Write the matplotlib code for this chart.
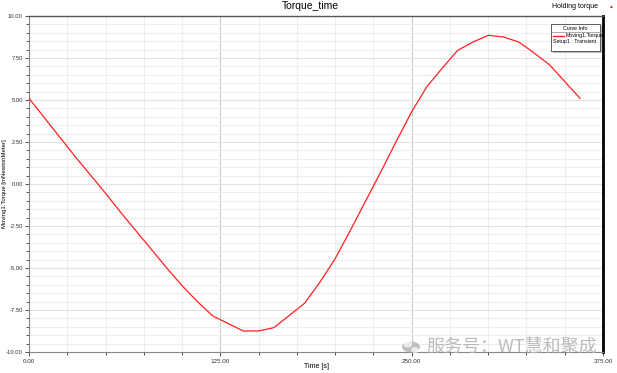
import matplotlib
matplotlib.use('Agg')
import matplotlib.pyplot as plt
import numpy as np
from matplotlib.patches import Circle, Ellipse, Rectangle

plt.rcParams['font.family'] = ['Liberation Sans Narrow', 'Liberation Sans', 'DejaVu Sans']

# torque curve (time in s, torque in mNewtonMeter)
time_s = [0, 10, 20, 30, 40, 50, 60, 70, 80, 90, 100, 110, 120, 140, 150, 160,
          180, 190, 200, 210, 220, 230, 240, 250, 260, 270, 280, 290, 300, 310,
          320, 330, 340, 350, 360]
torque = [5.10, 3.95, 2.80, 1.65, 0.55, -0.55, -1.70, -2.80, -3.90, -5.00, -6.05,
          -7.00, -7.85, -8.75, -8.75, -8.55, -7.10, -5.85, -4.45, -2.75, -1.00,
          0.75, 2.55, 4.30, 5.80, 6.90, 7.95, 8.45, 8.85, 8.75, 8.45, 7.80, 7.10,
          6.10, 5.10]

x_major = [0, 125, 250, 375]
y_major = [-10, -7.5, -5, -2.5, 0, 2.5, 5, 7.5, 10]

fig = plt.figure(figsize=(6.17, 3.73), dpi=100)
ax = fig.add_axes([29/617, 21/373, 574/617, 336/373])

ax.plot(time_s, torque, color='#ff2020', linewidth=0.9, zorder=3)

ax.set_xlim(0, 375)
ax.set_ylim(-10, 10)
ax.set_xticks(x_major)
ax.set_xticklabels([f'{v:.2f}' for v in x_major])
ax.set_yticks(y_major)
ax.set_yticklabels([f'{v:.2f}' for v in y_major])
ax.set_xticks(np.arange(0, 376, 25), minor=True)
ax.set_yticks(np.arange(-10, 10.01, 0.5), minor=True)

# grid
ax.grid(which='minor', color='#ededed', linewidth=0.8, zorder=0)
ax.grid(which='major', axis='y', color='#e2e2e2', linewidth=0.8, zorder=0)
ax.grid(which='major', axis='x', color='#cccccc', linewidth=0.8, zorder=0)
ax.set_axisbelow(True)

ax.tick_params(which='both', direction='out', labelsize=4.5, colors='#333333',
               length=3, width=0.6, pad=2)
ax.tick_params(which='minor', length=2)
ax.tick_params(axis='y', labelsize=4.2, pad=1.5)

for s in ['left', 'bottom']:
    ax.spines[s].set_color('#888888')
    ax.spines[s].set_linewidth(0.8)
ax.spines['top'].set_color('#555555')
ax.spines['top'].set_linewidth(1.0)
ax.spines['right'].set_color('black')
ax.spines['right'].set_linewidth(2.0)


def fx(px):
    return px / 617


def fy(py):
    return 1 - py / 373


# axis labels placed in figure pixels so they stay inside
fig.text(fx(316), fy(367), 'Time [s]', ha='center', va='center', fontsize=5)
fig.text(fx(5), fy(184), 'Moving1.Torque [mNewtonMeter]', ha='center', va='center',
         rotation=90, fontsize=4.3)

fig.text(fx(310), fy(6), 'Torque_time', ha='center', va='center', fontsize=7.5)
fig.text(fx(598), fy(7), 'Holding torque', ha='right', va='center', fontsize=5)
fig.text(fx(610), fy(7), '\u25b2', ha='center', va='center', fontsize=3.5, color='#cc3333')

# legend box "Curve Info"
lx0, lx1, ly0, ly1 = 551, 600, 24, 51
fig.patches.append(Rectangle((fx(lx0 + 2), fy(ly1 + 2)), fx(lx1 - lx0), (ly1 - ly0) / 373,
                             transform=fig.transFigure, facecolor='#bbbbbb',
                             edgecolor='none', zorder=4))
fig.patches.append(Rectangle((fx(lx0), fy(ly1)), fx(lx1 - lx0), (ly1 - ly0) / 373,
                             transform=fig.transFigure, facecolor='white',
                             edgecolor='#444444', linewidth=0.6, zorder=5))
fig.text(fx(575.5), fy(28), 'Curve Info', ha='center', va='center', fontsize=3.8, zorder=6)
fig.lines.append(plt.Line2D([fx(lx0), fx(lx1)], [fy(32), fy(32)], transform=fig.transFigure,
                            color='#888888', linewidth=0.5, zorder=6))
fig.lines.append(plt.Line2D([fx(553), fx(564)], [fy(36), fy(36)], transform=fig.transFigure,
                            color='#ff2020', linewidth=1.0, zorder=6))
fig.text(fx(566), fy(36), 'Moving1.Torque', ha='left', va='center', fontsize=3.8, zorder=6)
fig.text(fx(553), fy(42), 'Setup1 : Transient', ha='left', va='center', fontsize=3.8, zorder=6)

# watermark
wm_color = '#b4b4b4'
fig.patches.append(Circle((fx(411), fy(347)), 9 / 617, transform=fig.transFigure,
                          facecolor=wm_color, edgecolor='none', alpha=0.85, zorder=7))
fig.patches.append(Ellipse((fx(408), fy(344)), 9 / 617, 7 / 373, transform=fig.transFigure,
                           facecolor='white', edgecolor='none', alpha=0.7, zorder=8))
fig.patches.append(Ellipse((fx(415), fy(350)), 8 / 617, 6 / 373, transform=fig.transFigure,
                           facecolor='white', edgecolor='none', alpha=0.7, zorder=8))
fig.text(fx(426), fy(347), '服务号：WT慧和聚成', ha='left', va='center', fontsize=13,
         color=wm_color, alpha=0.9, family=['Noto Sans CJK SC', 'DejaVu Sans'], zorder=9)

fig.savefig('out.png', dpi=100)
